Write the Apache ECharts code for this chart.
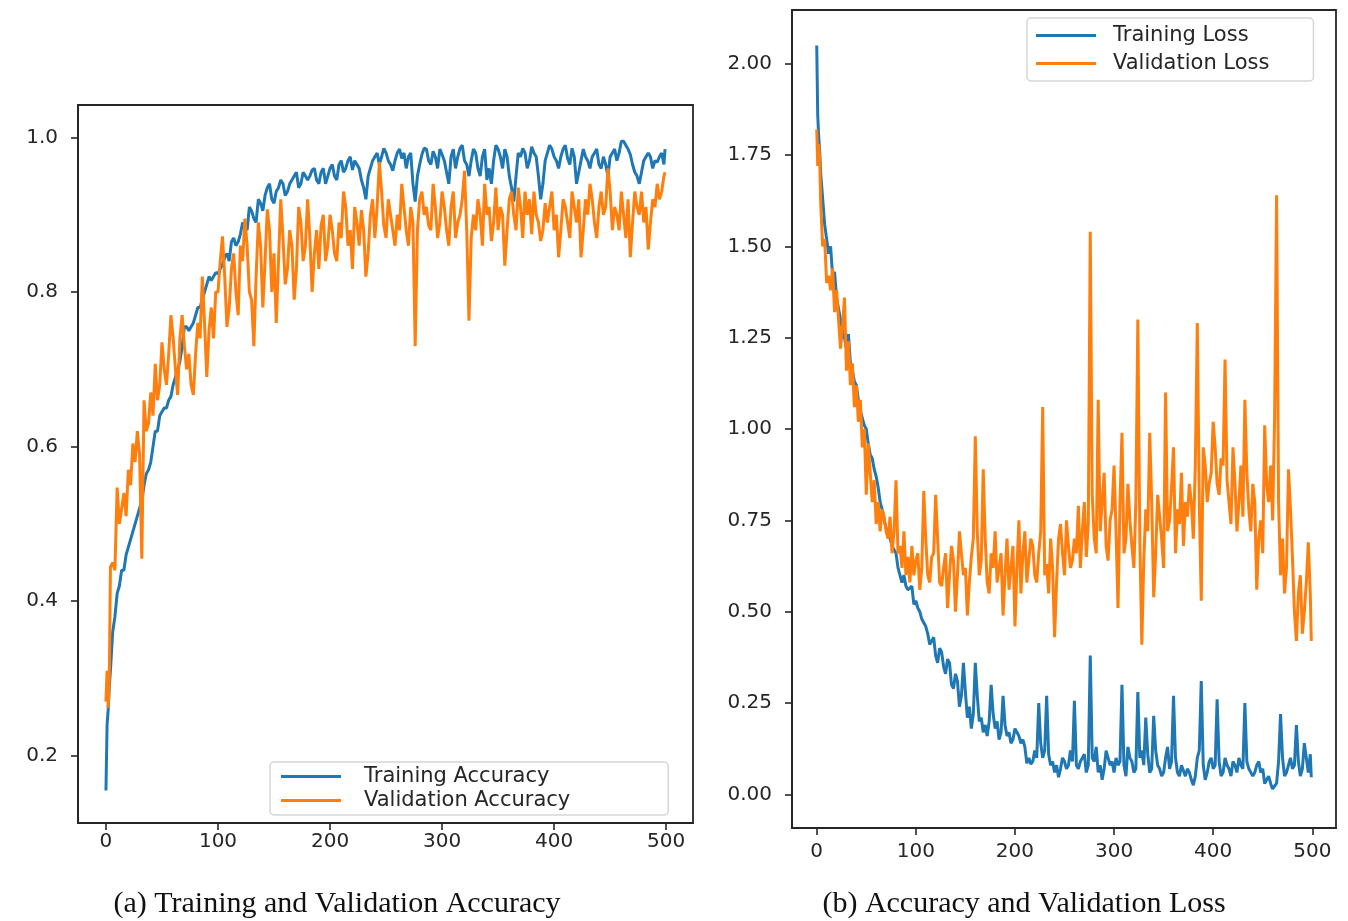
<!DOCTYPE html>
<html>
<head>
<meta charset="utf-8">
<script src="https://cdn.jsdelivr.net/npm/echarts@6/dist/echarts.min.js"></script>
<style>
  html, body { margin: 0; padding: 0; background: #fff; }
  #chart { width: 1348px; height: 921px; }
</style>
</head>
<body>
<div id="chart"></div>
<script>
// epochs
const epochs = [
  0, 1, 2, 3, 4,
  6, 8, 10, 12, 14, 16, 18, 20, 22, 24,
  26, 28, 30, 32, 34, 36, 38, 40, 42, 44,
  46, 48, 50, 52, 54, 56, 58, 60, 62, 64,
  66, 68, 70, 72, 74, 76, 78, 80, 82, 84,
  86, 88, 90, 92, 94, 96, 98, 100,
  102, 104, 106, 108, 110, 112, 114, 116, 118, 120, 122, 124, 126, 128, 130, 132, 134, 136, 138, 140,
  142, 144, 146, 148, 150, 152, 154, 156, 158, 160, 162, 164, 166, 168, 170, 172, 174, 176, 178, 180,
  182, 184, 186, 188, 190, 192, 194, 196, 198, 200, 202, 204, 206, 208, 210, 212, 214, 216, 218, 220,
  222, 224, 226, 228, 230, 232, 234, 236, 238, 240, 242, 244, 246, 248, 250, 252, 254, 256, 258, 260,
  262, 264, 266, 268, 270, 272, 274, 276, 278, 280, 282, 284, 286, 288, 290, 292, 294, 296, 298, 300,
  302, 304, 306, 308, 310, 312, 314, 316, 318, 320, 322, 324, 326, 328, 330, 332, 334, 336, 338, 340,
  342, 344, 346, 348, 350, 352, 354, 356, 358, 360, 362, 364, 366, 368, 370, 372, 374, 376, 378, 380,
  382, 384, 386, 388, 390, 392, 394, 396, 398, 400, 402, 404, 406, 408, 410, 412, 414, 416, 418, 420,
  422, 424, 426, 428, 430, 432, 434, 436, 438, 440, 442, 444, 446, 448, 450, 452, 454, 456, 458, 460,
  462, 464, 466, 468, 470, 472, 474, 476, 478, 480, 482, 484, 486, 488, 490, 492, 494, 496, 498,
  499
];

const trainAcc = [
  0.155, 0.24, 0.26, 0.29, 0.31,
  0.36, 0.38, 0.41, 0.42, 0.44, 0.44, 0.46, 0.47, 0.48, 0.49,
  0.50, 0.51, 0.52, 0.53, 0.55, 0.565, 0.57, 0.58, 0.60, 0.62,
  0.62, 0.64, 0.645, 0.65, 0.65, 0.66, 0.665, 0.68, 0.69, 0.70,
  0.71, 0.73, 0.755, 0.755, 0.75, 0.755, 0.76, 0.77, 0.78, 0.78,
  0.79, 0.80, 0.81, 0.82, 0.815, 0.82, 0.825, 0.824,
  0.83, 0.835, 0.845, 0.85, 0.84, 0.865, 0.87, 0.86, 0.865, 0.875, 0.89, 0.885, 0.88, 0.91, 0.905, 0.895, 0.89, 0.92, 0.915, 0.905,
  0.925, 0.935, 0.94, 0.92, 0.915, 0.93, 0.935, 0.945, 0.94, 0.925, 0.93, 0.94, 0.945, 0.95, 0.955, 0.935, 0.94, 0.955, 0.95, 0.945,
  0.95, 0.958, 0.96, 0.945, 0.94, 0.955, 0.96, 0.94, 0.95, 0.96, 0.965, 0.95, 0.945, 0.965, 0.97, 0.955, 0.96, 0.97, 0.975, 0.958,
  0.97, 0.965, 0.96, 0.945, 0.935, 0.92, 0.95, 0.96, 0.97, 0.975, 0.98, 0.965, 0.975, 0.986, 0.98, 0.97, 0.965, 0.957, 0.97, 0.98,
  0.985, 0.973, 0.98, 0.96, 0.975, 0.98, 0.94, 0.917, 0.95, 0.965, 0.978, 0.986, 0.985, 0.97, 0.965, 0.982, 0.975, 0.96, 0.985, 0.978,
  0.97, 0.955, 0.94, 0.975, 0.985, 0.96, 0.975, 0.986, 0.99, 0.97, 0.965, 0.95, 0.97, 0.985, 0.98, 0.96, 0.95, 0.975, 0.985, 0.945,
  0.96, 0.94, 0.97, 0.99, 0.985, 0.975, 0.96, 0.985, 0.975, 0.95, 0.935, 0.917, 0.95, 0.98, 0.975, 0.986, 0.98, 0.96, 0.97, 0.988,
  0.98, 0.975, 0.95, 0.92, 0.94, 0.97, 0.98, 0.99, 0.985, 0.975, 0.97, 0.96, 0.975, 0.985, 0.99, 0.973, 0.965, 0.986, 0.975, 0.94,
  0.955, 0.97, 0.985, 0.975, 0.97, 0.96, 0.975, 0.98, 0.985, 0.965, 0.96, 0.975, 0.965, 0.95, 0.975, 0.98, 0.985, 0.97, 0.98, 0.995,
  0.995, 0.99, 0.985, 0.978, 0.965, 0.955, 0.95, 0.94, 0.955, 0.97, 0.975, 0.98, 0.975, 0.96, 0.97, 0.968, 0.975, 0.98, 0.965,
  0.985
];

const valAcc = [
  0.27, 0.31, 0.262, 0.30, 0.444,
  0.45, 0.44, 0.547, 0.50, 0.52, 0.54, 0.51, 0.57, 0.55, 0.604,
  0.58, 0.62, 0.59, 0.455, 0.66, 0.62, 0.63, 0.67, 0.64, 0.707,
  0.66, 0.68, 0.735, 0.70, 0.68, 0.72, 0.77, 0.74, 0.70, 0.667,
  0.74, 0.77, 0.73, 0.70, 0.72, 0.68, 0.667, 0.72, 0.76, 0.74,
  0.82, 0.76, 0.69, 0.75, 0.78, 0.74, 0.80, 0.80,
  0.84, 0.872, 0.82, 0.755, 0.78, 0.83, 0.85, 0.80, 0.77, 0.86, 0.84, 0.895, 0.86, 0.80, 0.79, 0.73, 0.82, 0.89, 0.86, 0.78,
  0.84, 0.907, 0.88, 0.80, 0.85, 0.76, 0.84, 0.92, 0.87, 0.81, 0.83, 0.88, 0.86, 0.79, 0.83, 0.91, 0.89, 0.84, 0.86, 0.92,
  0.87, 0.80, 0.85, 0.88, 0.83, 0.886, 0.90, 0.84, 0.86, 0.90, 0.88, 0.85, 0.84, 0.89, 0.87, 0.93, 0.91, 0.86, 0.88, 0.83,
  0.91, 0.89, 0.86, 0.906, 0.88, 0.82, 0.85, 0.90, 0.92, 0.87, 0.91, 0.968, 0.93, 0.886, 0.87, 0.92, 0.90, 0.88, 0.86, 0.90,
  0.88, 0.94, 0.91, 0.88, 0.86, 0.91, 0.89, 0.73, 0.88, 0.92, 0.93, 0.90, 0.91, 0.886, 0.88, 0.94, 0.91, 0.87, 0.89, 0.93,
  0.91, 0.88, 0.86, 0.91, 0.93, 0.87, 0.89, 0.90, 0.92, 0.957, 0.88, 0.763, 0.87, 0.90, 0.88, 0.92, 0.90, 0.86, 0.94, 0.90,
  0.91, 0.866, 0.89, 0.935, 0.88, 0.91, 0.90, 0.834, 0.88, 0.92, 0.93, 0.90, 0.88, 0.935, 0.91, 0.87, 0.93, 0.90, 0.92, 0.875,
  0.93, 0.90, 0.89, 0.866, 0.88, 0.915, 0.89, 0.91, 0.93, 0.88, 0.90, 0.845, 0.88, 0.92, 0.91, 0.89, 0.87, 0.93, 0.91, 0.89,
  0.92, 0.845, 0.88, 0.92, 0.90, 0.94, 0.92, 0.89, 0.87, 0.91, 0.93, 0.90, 0.91, 0.96, 0.93, 0.88, 0.91, 0.90, 0.88, 0.93,
  0.90, 0.87, 0.92, 0.845, 0.89, 0.93, 0.91, 0.90, 0.93, 0.89, 0.91, 0.855, 0.89, 0.92, 0.91, 0.94, 0.92, 0.93, 0.95,
  0.955
];

const trainLoss = [
  2.05, 1.86, 1.80, 1.76, 1.70,
  1.63, 1.56, 1.52, 1.48, 1.50, 1.42, 1.43, 1.36, 1.33, 1.30,
  1.27, 1.25, 1.22, 1.26, 1.18, 1.16, 1.13, 1.12, 1.08, 1.05,
  1.03, 1.01, 1.00, 0.96, 0.93, 0.92, 0.89, 0.87, 0.84, 0.80,
  0.78, 0.75, 0.73, 0.72, 0.70, 0.68, 0.67, 0.66, 0.62, 0.60,
  0.58, 0.60, 0.57, 0.56, 0.555, 0.57, 0.52, 0.53,
  0.51, 0.50, 0.48, 0.47, 0.46, 0.44, 0.41, 0.42, 0.43, 0.38, 0.36, 0.40, 0.39, 0.35, 0.33, 0.37, 0.36, 0.30, 0.29, 0.33,
  0.31, 0.24, 0.27, 0.36, 0.28, 0.21, 0.24, 0.18, 0.22, 0.36, 0.27, 0.20, 0.21, 0.17, 0.19, 0.16, 0.20, 0.30, 0.22, 0.18,
  0.20, 0.15, 0.17, 0.27, 0.19, 0.16, 0.17, 0.14, 0.15, 0.18, 0.17, 0.16, 0.14, 0.15, 0.13, 0.085, 0.10, 0.083, 0.09, 0.12,
  0.10, 0.25, 0.14, 0.10, 0.12, 0.27, 0.11, 0.08, 0.09, 0.06, 0.08, 0.047, 0.07, 0.10, 0.09, 0.07, 0.08, 0.12, 0.09, 0.256,
  0.08, 0.07, 0.09, 0.10, 0.11, 0.06, 0.08, 0.38, 0.10, 0.09, 0.13, 0.06, 0.08, 0.04, 0.07, 0.12, 0.10, 0.08, 0.09, 0.06,
  0.10, 0.08, 0.09, 0.30, 0.08, 0.05, 0.13, 0.10, 0.09, 0.06, 0.07, 0.28, 0.10, 0.12, 0.08, 0.21, 0.11, 0.06, 0.07, 0.215,
  0.12, 0.08, 0.07, 0.05, 0.06, 0.10, 0.13, 0.07, 0.09, 0.27, 0.10, 0.06, 0.05, 0.08, 0.08, 0.05, 0.07, 0.06, 0.04, 0.025,
  0.05, 0.10, 0.12, 0.31, 0.08, 0.04, 0.06, 0.09, 0.10, 0.07, 0.08, 0.26, 0.09, 0.05, 0.06, 0.10, 0.08, 0.07, 0.05, 0.09,
  0.08, 0.06, 0.10, 0.08, 0.07, 0.25, 0.09, 0.07, 0.07, 0.05, 0.06, 0.08, 0.09, 0.06, 0.07, 0.03, 0.04, 0.05, 0.03, 0.015,
  0.02, 0.03, 0.09, 0.22, 0.10, 0.05, 0.06, 0.08, 0.10, 0.07, 0.08, 0.19, 0.09, 0.05, 0.07, 0.14, 0.10, 0.06, 0.11,
  0.047
];

const valLoss = [
  1.82, 1.72, 1.78, 1.74, 1.62,
  1.50, 1.52, 1.40, 1.42, 1.38, 1.44, 1.32, 1.38, 1.30, 1.22,
  1.28, 1.36, 1.16, 1.24, 1.12, 1.18, 1.06, 1.12, 1.02, 1.08,
  0.95, 1.00, 0.82, 0.96, 0.88, 0.80, 0.86, 0.74, 0.80, 0.72,
  0.78, 0.76, 0.72, 0.70, 0.76, 0.66, 0.72, 0.86, 0.66, 0.68,
  0.62, 0.72, 0.60, 0.65, 0.58, 0.68, 0.60, 0.64,
  0.66, 0.56, 0.62, 0.83, 0.70, 0.60, 0.58, 0.65, 0.66, 0.82, 0.70, 0.58, 0.57, 0.62, 0.66, 0.51, 0.60, 0.68, 0.64, 0.50,
  0.60, 0.72, 0.66, 0.60, 0.62, 0.49, 0.58, 0.65, 0.70, 0.98, 0.72, 0.60, 0.64, 0.89, 0.70, 0.58, 0.55, 0.66, 0.62, 0.72,
  0.58, 0.62, 0.66, 0.49, 0.60, 0.70, 0.56, 0.62, 0.68, 0.46, 0.62, 0.75, 0.55, 0.66, 0.72, 0.58, 0.64, 0.70, 0.68, 0.60,
  0.58, 0.66, 0.72, 1.06, 0.60, 0.63, 0.55, 0.70, 0.62, 0.43, 0.58, 0.70, 0.74, 0.66, 0.60, 0.75, 0.68, 0.62, 0.64, 0.70,
  0.66, 0.79, 0.62, 0.72, 0.80, 0.65, 0.74, 1.54, 0.82, 0.70, 0.66, 1.08, 0.72, 0.80, 0.88, 0.68, 0.64, 0.75, 0.78, 0.90,
  0.72, 0.51, 0.80, 0.99, 0.66, 0.70, 0.85, 0.75, 0.68, 0.62, 0.80, 1.30, 0.70, 0.41, 0.64, 0.78, 0.72, 0.99, 0.80, 0.54,
  0.66, 0.82, 0.76, 0.70, 0.62, 1.10, 0.72, 0.75, 0.84, 0.95, 0.66, 0.78, 0.74, 0.88, 0.68, 0.80, 0.76, 0.85, 0.80, 0.70,
  0.90, 1.29, 0.80, 0.53, 0.95, 0.90, 0.80, 0.85, 0.88, 1.02, 0.95, 0.85, 0.82, 0.92, 0.90, 1.19, 0.86, 0.80, 0.74, 0.95,
  0.85, 0.72, 0.80, 0.90, 0.76, 1.08, 0.88, 0.78, 0.72, 0.85, 0.80, 0.56, 0.70, 0.75, 0.66, 1.01, 0.85, 0.80, 0.90, 0.75,
  1.03, 1.64, 0.80, 0.60, 0.70, 0.55, 0.62, 0.89, 0.78, 0.65, 0.50, 0.42, 0.55, 0.60, 0.44, 0.50, 0.58, 0.69, 0.55,
  0.42
];

const xTicks = [0, 100, 200, 300, 400, 500];
const accTicks = [0.2, 0.4, 0.6, 0.8, 1.0];
const lossTicks = [0, 0.25, 0.5, 0.75, 1.0, 1.25, 1.5, 1.75, 2.0];

const BLUE = '#1f77b4';
const ORANGE = '#ff7f0e';
const INK = '#262626';
const tickFont = { color: INK, fontFamily: 'DejaVu Sans', fontSize: 20 };

const pairs = (ys) => epochs.map((e, i) => [e, ys[i]]);

const xAxisFor = (gridIndex, margin) => ({
  type: 'value',
  gridIndex,
  min: -24.95,
  max: 523.95,
  axisLine: { show: true, onZero: false, lineStyle: { color: INK, width: 1.8 } },
  axisTick: { show: true, length: 7, lineStyle: { color: INK, width: 1.6 }, customValues: xTicks },
  axisLabel: { ...tickFont, margin, customValues: xTicks },
  splitLine: { show: false }
});

const yAxisFor = (gridIndex, min, max, ticks, digits) => ({
  type: 'value',
  gridIndex,
  min,
  max,
  axisLine: { show: true, onZero: false, lineStyle: { color: INK, width: 1.8 } },
  axisTick: { show: true, length: 7, lineStyle: { color: INK, width: 1.6 }, customValues: ticks },
  axisLabel: { ...tickFont, margin: 20, customValues: ticks, formatter: (v) => v.toFixed(digits) },
  splitLine: { show: false }
});

const lineSeries = (name, ys, color, idx) => ({
  name,
  type: 'line',
  xAxisIndex: idx,
  yAxisIndex: idx,
  data: pairs(ys),
  showSymbol: false,
  symbol: 'none',
  lineStyle: { color, width: 3 },
  itemStyle: { color }
});

const legendBox = {
  orient: 'vertical',
  icon: 'rect',
  itemWidth: 60,
  itemHeight: 3,
  backgroundColor: 'rgba(255,255,255,0.8)',
  borderColor: '#d6d6d6',
  borderWidth: 1.5,
  borderRadius: 4
};

const chart = echarts.init(document.getElementById('chart'), null, { renderer: 'canvas' });

chart.setOption({
  animation: false,
  backgroundColor: '#ffffff',
  grid: [
    { left: 78, top: 105, width: 615, height: 718, show: true, borderColor: INK, borderWidth: 1.8 },
    { left: 792, top: 10, width: 544, height: 818, show: true, borderColor: INK, borderWidth: 1.8 }
  ],
  xAxis: [xAxisFor(0, 9), xAxisFor(1, 14)],
  yAxis: [
    yAxisFor(0, 0.113, 1.042, accTicks, 1),
    yAxisFor(1, -0.092, 2.147, lossTicks, 2)
  ],
  legend: [
    {
      ...legendBox,
      data: ['Training Accuracy', 'Validation Accuracy'],
      left: 270, top: 762, padding: [4, 98, 4, 11], itemGap: 3,
      textStyle: { color: INK, fontFamily: 'DejaVu Sans', fontSize: 21, padding: [0, 0, 0, 18] }
    },
    {
      ...legendBox,
      data: ['Training Loss', 'Validation Loss'],
      left: 1027, top: 18, padding: [7, 44, 7, 9], itemGap: 7,
      textStyle: { color: INK, fontFamily: 'DejaVu Sans', fontSize: 21, padding: [0, 0, 0, 12] }
    }
  ],
  series: [
    lineSeries('Training Accuracy', trainAcc, BLUE, 0),
    lineSeries('Validation Accuracy', valAcc, ORANGE, 0),
    lineSeries('Training Loss', trainLoss, BLUE, 1),
    lineSeries('Validation Loss', valLoss, ORANGE, 1)
  ],
  graphic: [
    {
      type: 'text', x: 337, y: 889,
      style: { text: '(a) Training and Validation Accuracy', fill: '#111', font: '30px "Liberation Serif"', textAlign: 'center' }
    },
    {
      type: 'text', x: 1024, y: 889,
      style: { text: '(b) Accuracy and Validation Loss', fill: '#111', font: '30px "Liberation Serif"', textAlign: 'center' }
    }
  ]
});
</script>
</body>
</html>
